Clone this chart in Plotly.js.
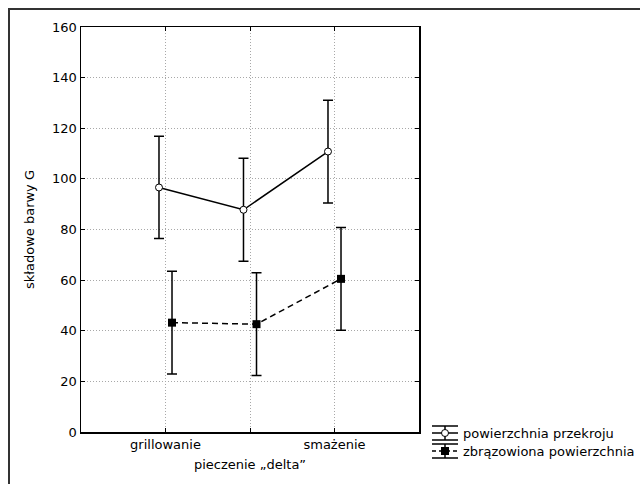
<!DOCTYPE html>
<html>
<head>
<meta charset="utf-8">
<script src="https://cdn.plot.ly/plotly-3.0.1.min.js"></script>
<style>
  html, body { margin: 0; padding: 0; background: #fff; overflow: hidden; }
  #wrap { position: relative; width: 640px; height: 484px; }
  #chart { width: 640px; height: 484px; }
  #frame { position: absolute; left: 8px; top: 8px; width: 700px; height: 600px;
           border-left: 2px solid #333; border-top: 2px solid #333; pointer-events: none; }
</style>
</head>
<body>
<div id="wrap"><div id="chart"></div><div id="frame"></div></div>
<script>
// ---- data ----
const categories = ['grillowanie', 'pieczenie', 'smażenie'];
const tickLabels = ['grillowanie', '', 'smażenie'];
const seriesNames = ['powierzchnia przekroju', 'zbrązowiona powierzchnia'];
const meansCross = [96.6, 87.8, 110.8];
const errCross   = [20.2, 20.3, 20.3];
const meansBrown = [43.2, 42.6, 60.5];
const errBrown   = [20.3, 20.3, 20.3];

// ---- geometry helpers ----
const L = 81, R = 221, T = 27, B = 52, W = 640, H = 484;
const pw = W - L - R, ph = H - T - B;
const px2x = p => (p - L) / pw;
const py2y = p => (H - B - p) / ph;
const idx = categories.map((c, i) => i);
const off = 0.077;

const FONT = 'DejaVu Sans, Liberation Sans, Arial, sans-serif';

const traces = [
  {
    type: 'scatter', mode: 'lines+markers', name: seriesNames[0],
    x: idx.map(i => i - off), y: meansCross,
    line: { color: '#000', width: 1.5 },
    marker: { symbol: 'circle', size: 7, color: '#fff', line: { color: '#000', width: 1 } },
    error_y: { type: 'data', array: errCross, visible: true, color: '#000', thickness: 1.5, width: 5 },
    showlegend: false, hoverinfo: 'y'
  },
  {
    type: 'scatter', mode: 'lines+markers', name: seriesNames[1],
    x: idx.map(i => i + off), y: meansBrown,
    line: { color: '#000', width: 1.5, dash: '6px,4px' },
    marker: { symbol: 'square', size: 8, color: '#000', line: { color: '#000', width: 0 } },
    error_y: { type: 'data', array: errBrown, visible: true, color: '#000', thickness: 1.5, width: 5 },
    showlegend: false, hoverinfo: 'y'
  }
];

// ---- manual legend (Statistica style) ----
const shapes = [];
const annotations = [];
function legendItem(rowY, name, isCircle, dash) {
  const x0 = px2x(432), x1 = px2x(458), xm = px2x(445);
  const capT = py2y(rowY - 7), capB = py2y(rowY + 7), yl = py2y(rowY);
  const ln = { color: '#000', width: 1.5 };
  shapes.push({ type: 'line', xref: 'paper', yref: 'paper', x0: x0, x1: x1, y0: capT, y1: capT, line: ln });
  shapes.push({ type: 'line', xref: 'paper', yref: 'paper', x0: x0, x1: x1, y0: capB, y1: capB, line: ln });
  shapes.push({ type: 'line', xref: 'paper', yref: 'paper', x0: xm, x1: xm, y0: capT, y1: capB, line: ln });
  shapes.push({ type: 'line', xref: 'paper', yref: 'paper', x0: x0, x1: x1, y0: yl, y1: yl,
                line: { color: '#000', width: 1.5, dash: dash } });
  if (isCircle) {
    shapes.push({ type: 'circle', xref: 'paper', yref: 'paper', xsizemode: 'pixel', ysizemode: 'pixel',
                  xanchor: xm, yanchor: yl, x0: -3.5, x1: 3.5, y0: -3.5, y1: 3.5,
                  fillcolor: '#fff', line: { color: '#000', width: 1 } });
  } else {
    shapes.push({ type: 'rect', xref: 'paper', yref: 'paper', xsizemode: 'pixel', ysizemode: 'pixel',
                  xanchor: xm, yanchor: yl, x0: -4, x1: 4, y0: -4, y1: 4,
                  fillcolor: '#000', line: { color: '#000', width: 0 } });
  }
  annotations.push({ xref: 'paper', yref: 'paper', x: px2x(461), y: yl, xanchor: 'left', yanchor: 'middle',
                     text: name, showarrow: false, font: { family: FONT, size: 13, color: '#000' } });
}
legendItem(433, seriesNames[0], true, 'solid');
legendItem(451, seriesNames[1], false, '4px,3px');

const axisCommon = {
  showline: true, mirror: 'ticks', linecolor: '#000', linewidth: 1.5,
  ticks: 'inside', ticklen: 4, tickcolor: '#000', tickwidth: 1,
  showgrid: true, gridcolor: '#a8a8a8', griddash: '1px,2px', gridwidth: 1,
  zeroline: false, tickfont: { family: FONT, size: 13, color: '#000' }
};

const layout = {
  width: W, height: H,
  margin: { l: L, r: R, t: T, b: B, pad: 0 },
  paper_bgcolor: '#fff', plot_bgcolor: '#fff',
  showlegend: false,
  xaxis: Object.assign({}, axisCommon, {
    range: [-1, 3], tickmode: 'array', tickvals: idx, ticktext: tickLabels,
    title: { text: 'pieczenie „delta”', font: { family: FONT, size: 13, color: '#000' }, standoff: 9 }
  }),
  yaxis: Object.assign({}, axisCommon, {
    range: [0, 160], dtick: 20, tick0: 0,
    title: { text: 'składowe barwy G', font: { family: FONT, size: 13, color: '#000' }, standoff: 14 }
  }),
  shapes: shapes,
  annotations: annotations
};

Plotly.newPlot('chart', traces, layout, { staticPlot: true, displayModeBar: false });
</script>
</body>
</html>
